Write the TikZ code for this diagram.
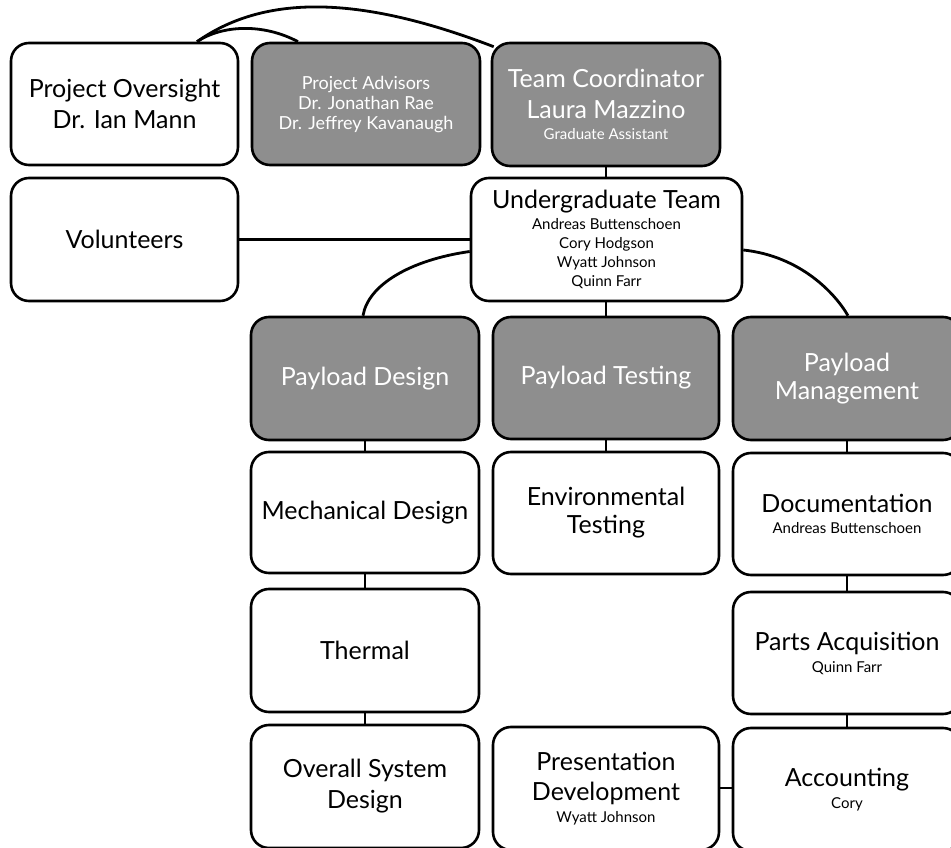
\documentclass[tikz,border=0pt]{standalone}
\usepackage{fontspec}
\setmainfont{Lato}
\definecolor{boxgray}{HTML}{8E8E8E}
\tikzset{
  box/.style={draw=black, line width=2.6pt, rounded corners=18pt, align=center, inner sep=0pt,
    minimum width=228pt, minimum height=123pt},
  wbox/.style={box, fill=white, text=black},
  gbox/.style={box, fill=boxgray, text=white},
  link/.style={draw=black, line width=2.8pt},
  big/.style={font=\fontsize{25}{31}\selectfont},
}
\newcommand{\smf}{\fontsize{15}{18}\selectfont}
\begin{document}
\begin{tikzpicture}[x=1pt,y=-1pt]
\clip (0,0) rectangle (951,848);
\fill[white] (0,0) rectangle (951,848);
% nodes
\node[wbox, big, minimum width=227pt, minimum height=122pt] (po) at (124.5,104) {Project Oversight\\Dr. Ian Mann};
\node[gbox, minimum height=122pt, font=\fontsize{18}{20}\selectfont] (pa) at (366,104) {\raisebox{-6pt}[0pt][0pt]{\begin{tabular}{@{}c@{}}Project Advisors\\Dr. Jonathan Rae\\Dr. Jeffrey Kavanaugh\end{tabular}}};
\node[gbox, big] (tc) at (606,104.5) {Team Coordinator\\Laura Mazzino\\[-10pt]\smf Graduate Assistant};
\node[wbox, big, minimum width=227pt] (vol) at (124.5,239.5) {Volunteers};
\node[wbox, big, minimum width=271pt] (ug) at (606.5,239.5) {Undergraduate Team\\[-10pt]\smf Andreas Buttenschoen\\[-12pt]\smf Cory Hodgson\\[-12pt]\smf Wyatt Johnson\\[-12pt]\smf Quinn Farr};
\node[gbox, big] (pd) at (365,378.5) {Payload Design};
\node[gbox, big, minimum width=226pt, minimum height=122pt] (pt) at (606,378) {Payload Testing};
\node[gbox, big] (pm) at (847,378.5) {Payload\\[-3pt]Management};
\node[wbox, big, minimum height=121pt] (me) at (365,512.5) {Mechanical Design};
\node[wbox, big, minimum width=226pt, minimum height=122pt] (et) at (606,513) {Environmental\\[-3pt]Testing};
\node[wbox, big, minimum height=122pt] (doc) at (847,514) {Documentation\\[-10pt]\smf Andreas Buttenschoen};
\node[wbox, big] (th) at (365,650.5) {Thermal};
\node[wbox, big, minimum height=122pt] (pq) at (847,653) {Parts Acquisition\\[-9pt]\smf Quinn Farr};
\node[wbox, big] (os) at (365,786.5) {Overall System\\Design};
\node[wbox, big, minimum width=226pt] (prd) at (606,788.5) {Presentation\\[-1pt]Development\\[-9pt]\smf Wyatt Johnson};
\node[wbox, big] (acc) at (847,789.5) {Accounting\\[-9pt]\smf Cory};
% connectors
\draw[link] ([xshift=72.5pt]po.north) .. controls (222,25) and (263,23) .. ([xshift=-68pt]pa.north);
\draw[link] ([xshift=72.5pt]po.north) .. controls (262,-4) and (354,-7) .. ([shift={(3pt,-5pt)}]tc.north west);
\draw[link] (tc.south) -- (tc.south |- ug.north);
\draw[link] (vol.east) -- (vol.east -| ug.west);
\draw[link] ([yshift=-12pt]ug.west) .. controls (410,260) and (368,285) .. ([xshift=-2pt]pd.north);
\draw[link] ([yshift=-10.5pt]ug.east) .. controls (800,256) and (835,293) .. ([xshift=1pt]pm.north);
\draw[link] (ug.south -| pt.north) -- (pt.north);
\draw[link] (pd.south) -- (me.north);
\draw[link] (me.south) -- (th.north);
\draw[link] (th.south) -- (os.north);
\draw[link] (pt.south) -- (et.north);
\draw[link] (pm.south) -- (doc.north);
\draw[link] (doc.south) -- (pq.north);
\draw[link] (pq.south) -- (acc.north);
\draw[link] ([yshift=0.5pt]prd.east) -- ([yshift=0.5pt]prd.east -| acc.west);
\end{tikzpicture}
\end{document}
